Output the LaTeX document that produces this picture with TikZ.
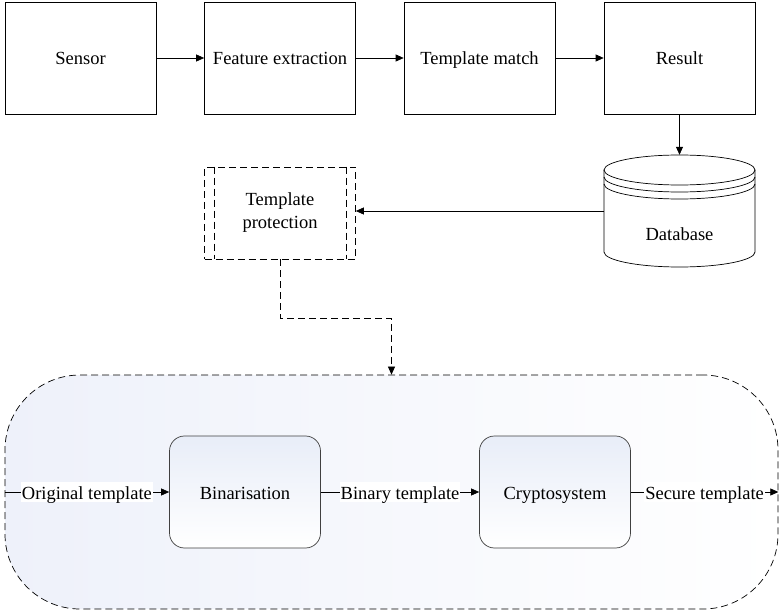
\documentclass[tikz,border=0pt]{standalone}
\usepackage{fontspec}
\setmainfont{Liberation Serif}
\usetikzlibrary{arrows.meta}
\definecolor{paleblue}{RGB}{232,237,248}
\definecolor{faintblue}{RGB}{238,241,250}

\begin{document}
\begin{tikzpicture}
    [x=1pt, y=-1pt, font=\fontsize{18.5}{23}\selectfont,
    block/.style={draw, line width=0.7pt, minimum width=151pt, minimum height=112pt, align=center},
    oneline/.style={text height=16pt, text depth=2pt},
    soft/.style={draw=black!75, line width=0.7pt, rounded corners=15pt, minimum width=151pt, minimum height=112pt,
        top color=paleblue, bottom color=white},
    edge/.style={line width=0.7pt, black, -{Triangle[length=8pt,width=7pt]}},
    dashline/.style={line width=0.7pt, dash pattern=on 7pt off 4pt},
    lbl/.style={fill=white, inner sep=1pt, oneline}]

    \useasboundingbox (0,0) rectangle (782,612);

    % protected zone behind the bottom row
    \node[draw=black, dashline, rounded corners=75pt, minimum width=773pt, minimum height=234pt,
        left color=faintblue, right color=white] (zone) at (391.5,492) {};

    \node[block, oneline] (sensor) at (80.5,58) {Sensor};
    \node[block, oneline] (feat) at (280,58) {Feature extraction};
    \node[block, oneline] (match) at (479.5,58) {Template match};
    \node[block, oneline] (result) at (679.5,58) {Result};

    % database cylinder
    \node[minimum width=151pt, minimum height=112pt] (db) at (679.5,211) {};
    \draw[line width=0.7pt] (604,170) -- (604,252) arc[start angle=180, end angle=360, x radius=75.5pt, y radius=15pt] -- (755,170);
    \draw[line width=0.7pt] (679.5,170) ellipse [x radius=75.5pt, y radius=15pt];
    \draw[line width=0.7pt] (604,177) arc[start angle=180, end angle=360, x radius=75.5pt, y radius=15pt];
    \draw[line width=0.7pt] (604,184) arc[start angle=180, end angle=360, x radius=75.5pt, y radius=15pt];
    \node[oneline] (dblabel) at (679.5,234) {Database};

    \node[block, dashline, minimum height=92pt] (tp) at (280,213) {Template\\protection};
    \draw[dashline] ([xshift=10pt]tp.north west) -- ([xshift=10pt]tp.south west);
    \draw[dashline] ([xshift=-10pt]tp.north east) -- ([xshift=-10pt]tp.south east);

    \node[soft, oneline] (bin) at (245,492) {Binarisation};
    \node[soft, oneline] (crypto) at (555,492) {Cryptosystem};

    \draw[edge] (sensor) -- (feat);
    \draw[edge] (feat) -- (match);
    \draw[edge] (match) -- (result);
    \draw[edge] (result) -- (db);
    \draw[edge] (db) -- (db -| tp.east);
    \draw[edge, dashline] (tp.south) -- ++(0,59) -| (zone.north);

    \draw[edge] (zone.west) -- node[lbl] {Original template} (bin);
    \draw[edge] (bin) -- node[lbl] {Binary template} (crypto);
    \draw[edge] (crypto) -- node[lbl] {Secure template} (zone.east);

\end{tikzpicture}
\end{document}
